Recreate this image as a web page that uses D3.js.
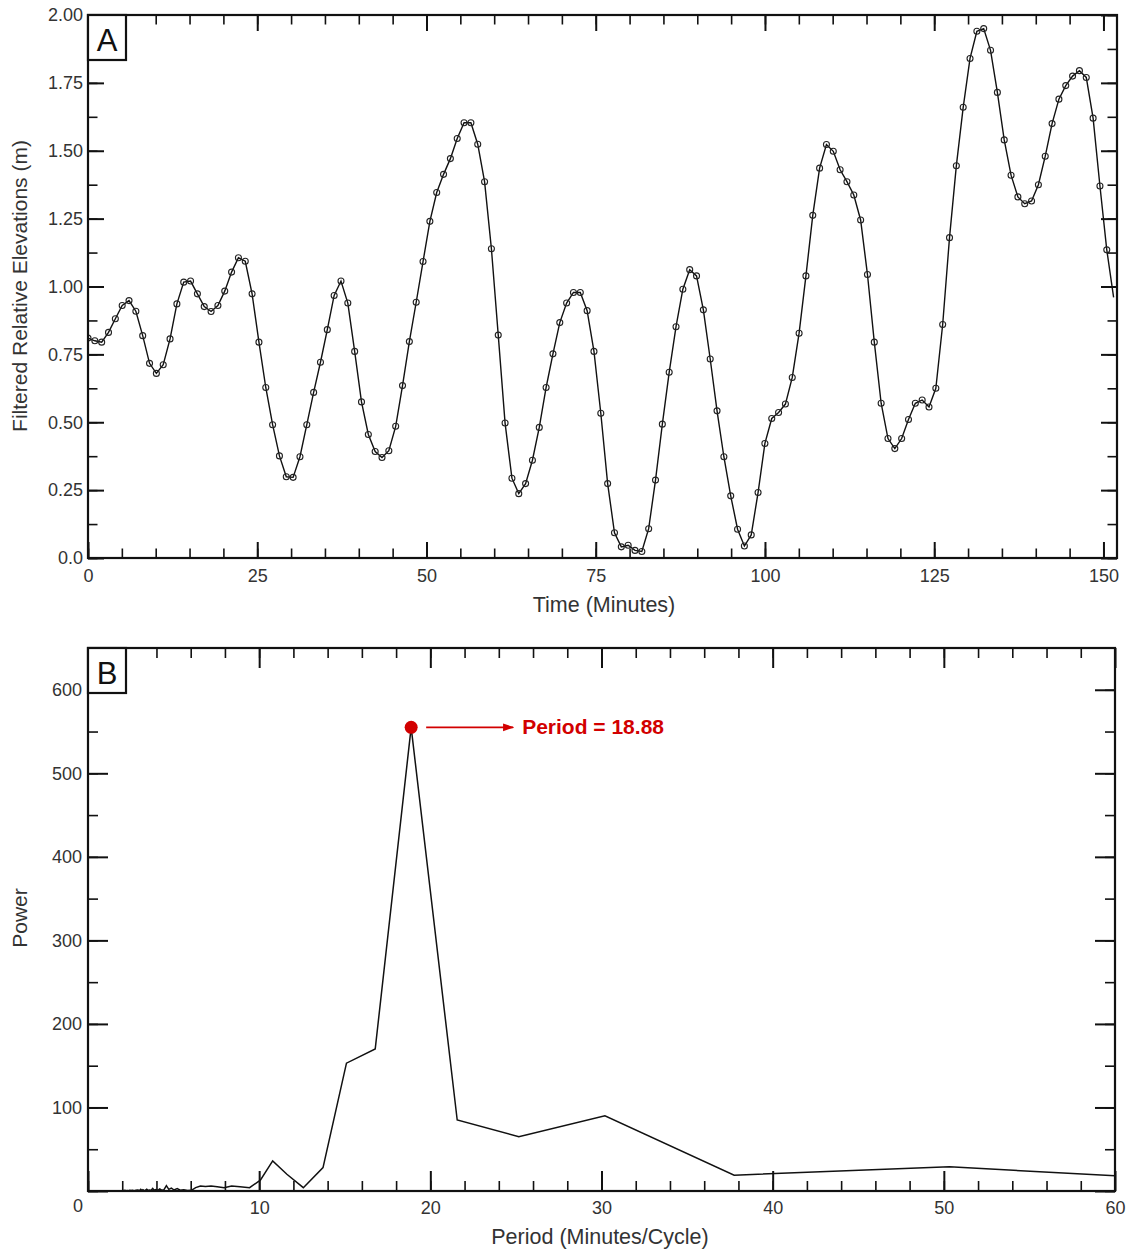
<!DOCTYPE html>
<html>
<head>
<meta charset="utf-8">
<script src="https://cdn.jsdelivr.net/npm/d3@7"></script>
<style>
  body { margin: 0; background: #fff; }
  svg text { font-family: "Liberation Sans", Arial, Helvetica, sans-serif; }
</style>
</head>
<body>
<svg width="1134" height="1253"></svg>
<script>
// ---- panel A : filtered elevations, one sample per step (minutes)
var sampleStep = 1.01;
var elevations = [
  0.81, 0.80, 0.795, 0.831, 0.881, 0.93, 0.948, 0.909, 0.819, 0.717,
  0.680, 0.712, 0.807, 0.936, 1.016, 1.020, 0.973, 0.926, 0.908, 0.930,
  0.983, 1.053, 1.106, 1.093, 0.973, 0.795, 0.628, 0.491, 0.376, 0.299,
  0.297, 0.373, 0.491, 0.610, 0.721, 0.841, 0.967, 1.020, 0.939, 0.761,
  0.575, 0.455, 0.392, 0.370, 0.395, 0.485, 0.635, 0.797, 0.942, 1.092,
  1.240, 1.346, 1.413, 1.471, 1.545, 1.603, 1.603, 1.524, 1.386, 1.139,
  0.821, 0.497, 0.294, 0.237, 0.274, 0.360, 0.481, 0.628, 0.752, 0.867,
  0.939, 0.978, 0.978, 0.911, 0.761, 0.533, 0.274, 0.093, 0.041, 0.047,
  0.028, 0.024, 0.108, 0.287, 0.493, 0.684, 0.852, 0.990, 1.062, 1.039,
  0.914, 0.733, 0.542, 0.373, 0.229, 0.106, 0.044, 0.085, 0.241, 0.422,
  0.514, 0.536, 0.567, 0.665, 0.828, 1.039, 1.262, 1.436, 1.523, 1.498,
  1.430, 1.386, 1.337, 1.245, 1.044, 0.795, 0.570, 0.440, 0.403, 0.440,
  0.510, 0.570, 0.582, 0.556, 0.625, 0.86, 1.18, 1.445, 1.66, 1.84,
  1.94, 1.95, 1.87, 1.715, 1.54, 1.41, 1.33, 1.305, 1.315, 1.375,
  1.48, 1.60, 1.69, 1.74, 1.775, 1.795, 1.77, 1.62, 1.37, 1.135,
  0.96
];
var timeTicks = [0, 25, 50, 75, 100, 125, 150];
var elevTicks = [0, 0.25, 0.5, 0.75, 1.0, 1.25, 1.5, 1.75, 2.0];

// ---- panel B : periodogram
var periods = [
  2.01, 2.10, 2.16, 2.22, 2.29, 2.36, 2.44, 2.52, 2.60, 2.70,
  2.80, 2.90, 3.02, 3.08, 3.15, 3.21, 3.28, 3.36, 3.43, 3.51,
  3.60, 3.68, 3.78, 3.87, 3.97, 4.08, 4.19, 4.31, 4.44, 4.58,
  4.72, 4.87, 5.03, 5.21, 5.39, 5.59, 5.81, 6.04, 6.29, 6.57,
  6.86, 7.19, 7.55, 7.95, 8.39, 8.88, 9.44, 10.07, 10.79, 11.62,
  12.58, 13.73, 15.10, 16.78, 18.88, 21.57, 25.17, 30.20, 37.75, 50.33,
  75.50
];
var power = [
  0.5, 0.5, 0.8, 0.3, 0.6, 0.4, 0.9, 0.5, 1.0, 0.4,
  0.8, 1.2, 0.6, 2.0, 0.8, 1.5, 0.5, 1.0, 2.2, 0.7,
  1.2, 0.6, 3.0, 1.0, 1.8, 0.8, 2.5, 1.0, 1.6, 6.5,
  2.0, 3.5, 1.2, 3.0, 1.0, 1.5, 0.5, 0.8, 4.0, 6.0,
  5.5, 6.0, 5.0, 4.0, 6.0, 5.0, 4.0, 13, 36, 20,
  4, 28, 153, 170, 555, 85, 65, 90, 19, 29,
  1
];
var peakPeriod = 18.88, peakPower = 555;
var periodTicks = [10, 20, 30, 40, 50, 60];
var powerTicks = [100, 200, 300, 400, 500, 600];

var svg = d3.select("svg");
var red = "#d20000";

function frame(g, x, y, major, minor, majorLen, minorLen) {
    var x0 = x.range()[0], x1 = x.range()[1], y0 = y.range()[0], y1 = y.range()[1];
    var sides = [
        [d3.axisBottom, x, "translate(0," + y0 + ")"],
        [d3.axisTop, x, "translate(0," + y1 + ")"],
        [d3.axisLeft, y, "translate(" + x0 + ",0)"],
        [d3.axisRight, y, "translate(" + x1 + ",0)"]
    ];
    sides.forEach(function (s, i) {
        var ticks = i < 2 ? major[0] : major[1],
            mticks = i < 2 ? minor[0] : minor[1];
        g.append("g").attr("transform", s[2])
            .call(s[0](s[1]).tickValues(mticks).tickSize(-minorLen).tickFormat(""))
            .call(a => a.select(".domain").remove())
            .selectAll("line").attr("stroke", "#111").attr("stroke-width", 1.6);
        g.append("g").attr("transform", s[2])
            .call(s[0](s[1]).tickValues(ticks).tickSize(-majorLen).tickFormat(""))
            .call(a => a.select(".domain").remove())
            .selectAll("line").attr("stroke", "#111").attr("stroke-width", 2);
    });
    g.append("rect")
        .attr("x", x0).attr("y", y1)
        .attr("width", x1 - x0).attr("height", y0 - y1)
        .attr("fill", "none").attr("stroke", "#111").attr("stroke-width", 2.2);
}

function panelLetter(g, x, y, letter) {
    g.append("rect").attr("x", x).attr("y", y).attr("width", 38).attr("height", 45)
        .attr("fill", "#fff").attr("stroke", "#111").attr("stroke-width", 2.2);
    g.append("text").attr("x", x + 19).attr("y", y + 36)
        .attr("text-anchor", "middle").attr("font-size", 31).attr("fill", "#111")
        .text(letter);
}

//////////// Panel A ////////////
var gA = svg.append("g");
var xA = d3.scaleLinear().domain([0, 152]).range([88, 1117]);
var yA = d3.scaleLinear().domain([0, 2]).range([558, 15]);

gA.append("clipPath").attr("id", "clipA").append("rect")
    .attr("x", 88).attr("y", 15).attr("width", 1029).attr("height", 543);

var ptsA = elevations.map((v, i) => ({ t: i * sampleStep, v: v }));
var lineA = d3.line().x(d => xA(d.t)).y(d => yA(d.v));

var plotA = gA.append("g").attr("clip-path", "url(#clipA)");
plotA.append("path").datum(ptsA)
    .attr("d", lineA).attr("fill", "none")
    .attr("stroke", "#111").attr("stroke-width", 1.4);
plotA.selectAll("circle").data(ptsA.slice(0, -1)).enter().append("circle")
    .attr("cx", d => xA(d.t)).attr("cy", d => yA(d.v)).attr("r", 3)
    .attr("fill", "none").attr("stroke", "#222").attr("stroke-width", 1.1);

frame(gA, xA, yA,
    [timeTicks, elevTicks],
    [d3.range(0, 152, 5), d3.range(0, 2.001, 0.125)], 16, 9.5);

// tick labels
gA.append("g").attr("transform", "translate(0,558)")
    .call(d3.axisBottom(xA).tickValues(timeTicks).tickSize(0).tickPadding(11))
    .call(a => a.select(".domain").remove())
    .selectAll("text").attr("font-size", 18).attr("fill", "#333")
    .attr("font-family", "Liberation Sans, Arial, sans-serif");
gA.append("g").attr("transform", "translate(88,0)")
    .call(d3.axisLeft(yA).tickValues(elevTicks).tickSize(0).tickPadding(5)
        .tickFormat(d => d === 0 ? "0.0" : d3.format(".2f")(d)))
    .call(a => a.select(".domain").remove())
    .selectAll("text").attr("font-size", 18).attr("fill", "#333")
    .attr("font-family", "Liberation Sans, Arial, sans-serif");

gA.append("text").attr("x", 604).attr("y", 612)
    .attr("text-anchor", "middle").attr("font-size", 21.5).attr("fill", "#333")
    .text("Time (Minutes)");
gA.append("text").attr("transform", "translate(27,286) rotate(-90)")
    .attr("text-anchor", "middle").attr("font-size", 21).attr("fill", "#333")
    .text("Filtered Relative Elevations (m)");

panelLetter(gA, 88, 15, "A");

//////////// Panel B ////////////
var gB = svg.append("g");
var xB = d3.scaleLinear().domain([0, 60]).range([88, 1115]);
var yB = d3.scaleLinear().domain([0, 650]).range([1191, 648]);

gB.append("clipPath").attr("id", "clipB").append("rect")
    .attr("x", 88).attr("y", 648).attr("width", 1027).attr("height", 543);

var ptsB = periods.map((p, i) => ({ p: p, v: power[i] }));
gB.append("g").attr("clip-path", "url(#clipB)")
    .append("path").datum(ptsB)
    .attr("d", d3.line().x(d => xB(d.p)).y(d => yB(d.v)))
    .attr("fill", "none").attr("stroke", "#111").attr("stroke-width", 1.5);

frame(gB, xB, yB,
    [[0].concat(periodTicks), [0].concat(powerTicks)],
    [d3.range(0, 60, 2), d3.range(0, 650, 50)], 20, 10);

gB.append("g").attr("transform", "translate(0,1191)")
    .call(d3.axisBottom(xB).tickValues(periodTicks).tickSize(0).tickPadding(10))
    .call(a => a.select(".domain").remove())
    .selectAll("text").attr("font-size", 18).attr("fill", "#333")
    .attr("font-family", "Liberation Sans, Arial, sans-serif");
gB.append("g").attr("transform", "translate(88,0)")
    .call(d3.axisLeft(yB).tickValues(powerTicks).tickSize(0).tickPadding(6))
    .call(a => a.select(".domain").remove())
    .selectAll("text").attr("font-size", 18).attr("fill", "#333")
    .attr("font-family", "Liberation Sans, Arial, sans-serif");
// shared origin label
gB.append("text").attr("x", xB(0) - 5).attr("y", 1212)
    .attr("text-anchor", "end").attr("font-size", 18).attr("fill", "#333").text("0");

gB.append("text").attr("x", 600).attr("y", 1244)
    .attr("text-anchor", "middle").attr("font-size", 21.5).attr("fill", "#333")
    .text("Period (Minutes/Cycle)");
gB.append("text").attr("transform", "translate(27,918) rotate(-90)")
    .attr("text-anchor", "middle").attr("font-size", 21).attr("fill", "#333")
    .text("Power");

panelLetter(gB, 88, 648, "B");

// peak annotation
var px = xB(peakPeriod), py = yB(peakPower);
svg.append("defs").append("marker")
    .attr("id", "arrow").attr("viewBox", "0 0 10 10")
    .attr("refX", 9).attr("refY", 5)
    .attr("markerWidth", 7).attr("markerHeight", 7)
    .attr("orient", "auto")
    .append("path").attr("d", "M0,1.5 L10,5 L0,8.5 Z").attr("fill", red);
gB.append("line")
    .attr("x1", px + 15).attr("y1", py).attr("x2", px + 102).attr("y2", py)
    .attr("stroke", red).attr("stroke-width", 1.6)
    .attr("marker-end", "url(#arrow)");
gB.append("circle").attr("cx", px).attr("cy", py).attr("r", 6.5).attr("fill", red);
gB.append("text").attr("x", px + 111).attr("y", py + 7)
    .attr("font-size", 21).attr("font-weight", "bold").attr("fill", red)
    .text("Period = 18.88");
</script>
</body>
</html>
